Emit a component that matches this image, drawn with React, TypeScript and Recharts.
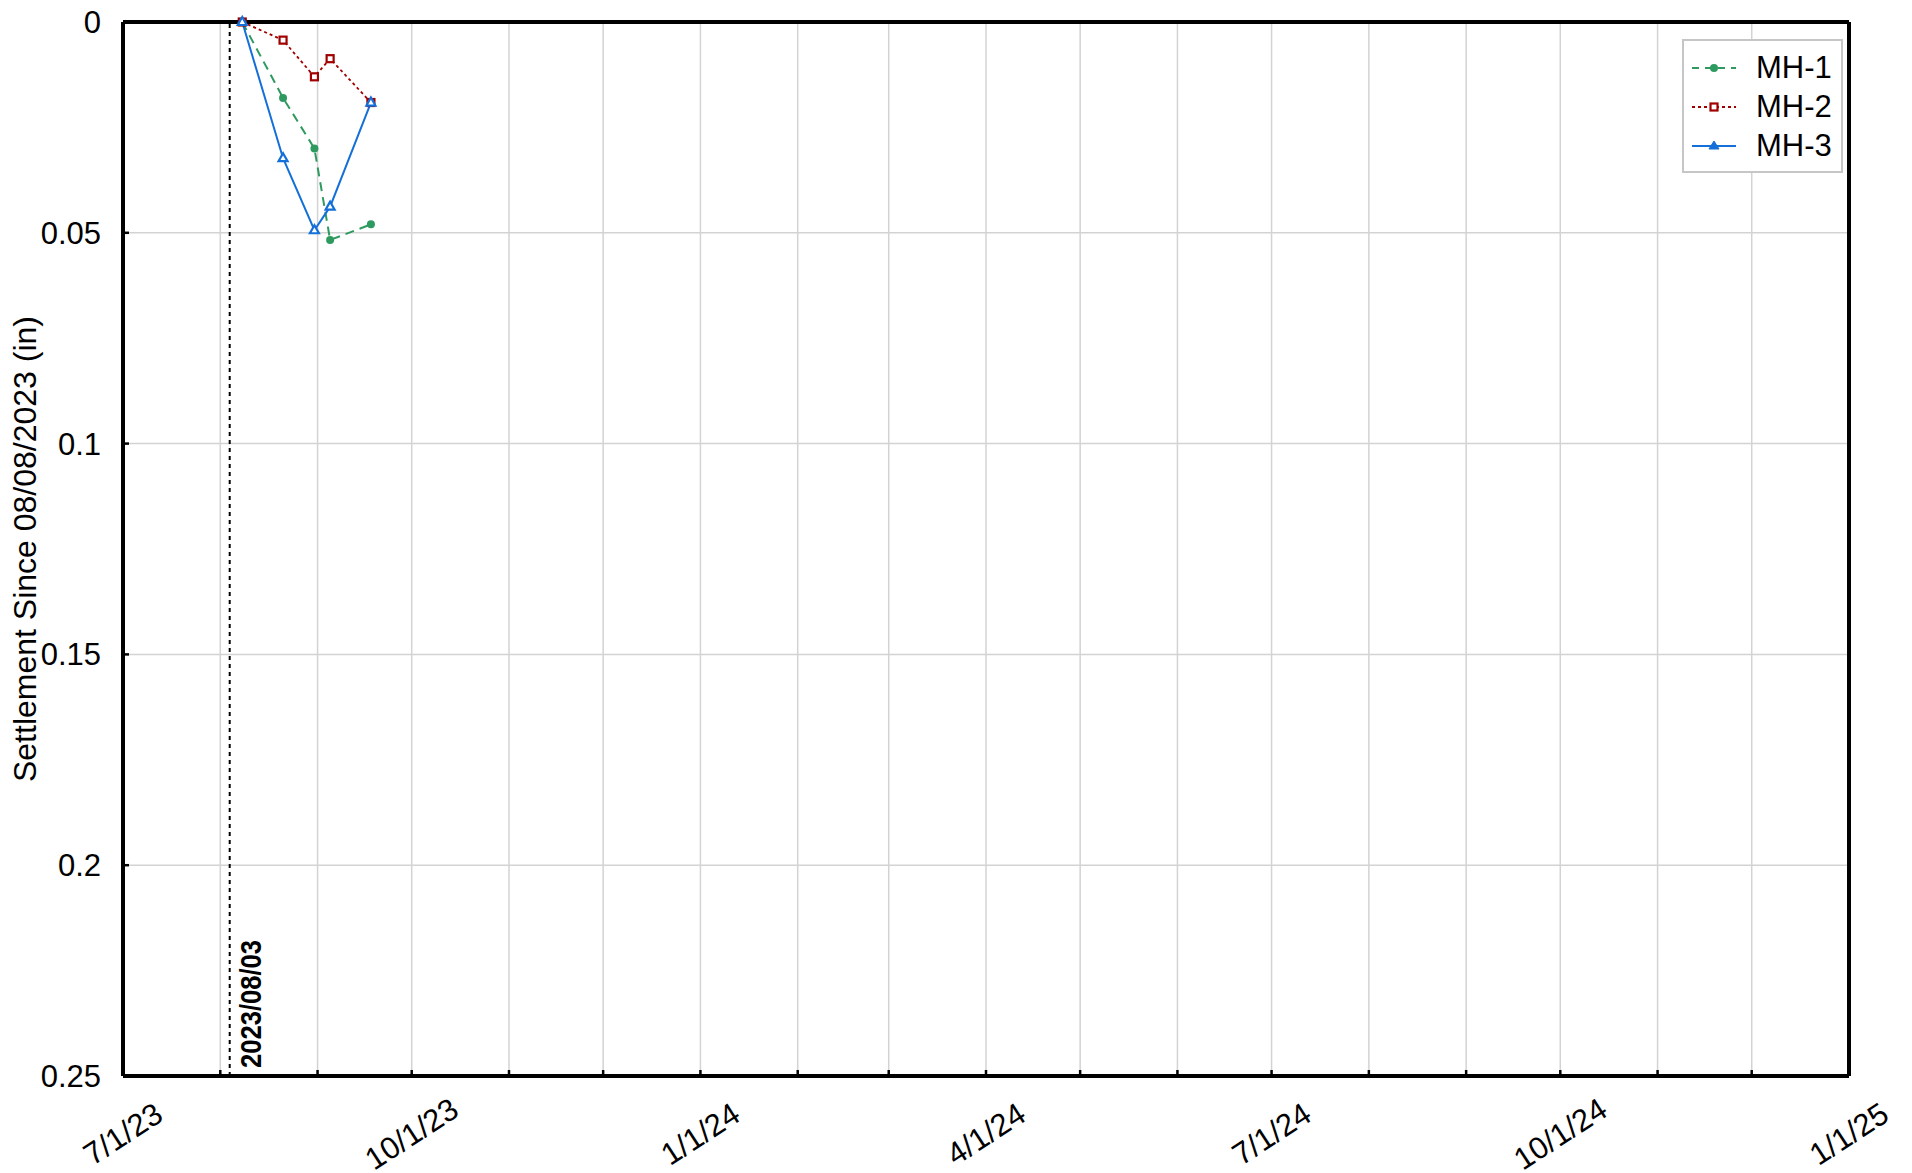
import { LineChart, Line, XAxis, YAxis, CartesianGrid, ReferenceLine, Legend } from "recharts";

const FONT = "'Liberation Sans', Arial, sans-serif";

// survey dates and settlement readings (in)
const sampleDates = ["2023-08-08", "2023-08-21", "2023-08-31", "2023-09-05", "2023-09-18"];
const mh1 = [0, 0.018, 0.03, 0.0517, 0.048];
const mh2 = [0, 0.0043, 0.013, 0.0087, 0.0191];
const mh3 = [0, 0.0323, 0.0494, 0.0438, 0.0191];

const monthTicks = [
  "2023-07-01", "2023-08-01", "2023-09-01", "2023-10-01", "2023-11-01", "2023-12-01",
  "2024-01-01", "2024-02-01", "2024-03-01", "2024-04-01", "2024-05-01", "2024-06-01",
  "2024-07-01", "2024-08-01", "2024-09-01", "2024-10-01", "2024-11-01", "2024-12-01",
  "2025-01-01",
];
const quarterLabels: Record<string, string> = {
  "2023-07-01": "7/1/23",
  "2023-10-01": "10/1/23",
  "2024-01-01": "1/1/24",
  "2024-04-01": "4/1/24",
  "2024-07-01": "7/1/24",
  "2024-10-01": "10/1/24",
  "2025-01-01": "1/1/25",
};
const yTicks = [0, 0.05, 0.1, 0.15, 0.2, 0.25];
const baselineLabel = "2023/08/03";
const baselineAt = "2023-08-04";

const ts = (s: string) => Date.parse(s + "T00:00:00Z");

const data = sampleDates.map((d, i) => ({ t: ts(d), mh1: mh1[i], mh2: mh2[i], mh3: mh3[i] }));
const tickValues = monthTicks.map(ts);
const labelByTs: Record<number, string> = {};
Object.keys(quarterLabels).forEach((k) => (labelByTs[ts(k)] = quarterLabels[k]));
const xDomain = [ts(monthTicks[0]), ts(monthTicks[monthTicks.length - 1])];

const GREEN = "#2f9a5f";
const RED = "#a00000";
const BLUE = "#1470d8";
const FS = 31;

const XTick = (props: any) => {
  const { x, y, payload } = props;
  const label = labelByTs[payload.value];
  if (!label) return <g />;
  const cy = y + 62;
  return (
    <text
      x={x}
      y={cy}
      transform={`rotate(-33 ${x} ${cy})`}
      textAnchor="middle"
      dominantBaseline="central"
      fontSize={FS}
      fontFamily={FONT}
      fill="#000"
    >
      {label}
    </text>
  );
};

const YLabel = (props: any) => {
  const vb = props.viewBox;
  const x = vb.x + 36;
  const y = vb.y + vb.height / 2;
  return (
    <text x={x} y={y} transform={`rotate(-90 ${x} ${y})`} textAnchor="middle" fontSize={32} fontFamily={FONT} fill="#000">
      Settlement Since 08/08/2023 (in)
    </text>
  );
};

const BaselineLabel = (props: any) => {
  const vb = props.viewBox;
  const x = vb.x + 31;
  const y = vb.y + vb.height - 8;
  return (
    <text
      x={x}
      y={y}
      transform={`rotate(-90 ${x} ${y})`}
      fontSize={29}
      fontWeight="bold"
      fontFamily={FONT}
      textLength={128}
      lengthAdjust="spacingAndGlyphs"
      fill="#000"
    >
      {baselineLabel}
    </text>
  );
};

const CircleDot = (props: any) => {
  const { cx, cy, index } = props;
  return <circle key={`c${index}`} cx={cx} cy={cy} r={4} fill={GREEN} stroke="none" />;
};

const SquareDot = (props: any) => {
  const { cx, cy, index } = props;
  return <rect key={`s${index}`} x={cx - 3.5} y={cy - 3.5} width={7} height={7} fill="#fff" stroke={RED} strokeWidth={2.2} />;
};

const TriDot = (props: any) => {
  const { cx, cy, index } = props;
  const pts = `${cx},${cy - 5} ${cx - 4.5},${cy + 3} ${cx + 4.5},${cy + 3}`;
  return <polygon key={`t${index}`} points={pts} fill="#fff" stroke={BLUE} strokeWidth={2.2} />;
};

const legendItems = [
  { name: "MH-1", color: GREEN, dash: "7 6", width: 2, kind: "circle" },
  { name: "MH-2", color: RED, dash: "3 3", width: 2, kind: "square" },
  { name: "MH-3", color: BLUE, dash: undefined, width: 2, kind: "tri" },
];

const LegendBox = () => (
  <div
    style={{
      width: 161,
      height: 134,
      border: "2px solid #c6c6c6",
      boxSizing: "border-box",
      background: "#fff",
      paddingTop: 7,
      fontFamily: FONT,
    }}
  >
    {legendItems.map((s) => (
      <div key={s.name} style={{ display: "flex", alignItems: "center", height: 39 }}>
        <svg width={53} height={20} style={{ display: "block" }}>
          <line x1={8} y1={10} x2={52} y2={10} stroke={s.color} strokeWidth={s.width} strokeDasharray={s.dash} />
          {s.kind === "circle" && <circle cx={30} cy={10} r={4} fill={s.color} />}
          {s.kind === "square" && <rect x={26.5} y={6.5} width={7} height={7} fill="#fff" stroke={s.color} strokeWidth={2.2} />}
          {s.kind === "tri" && <polygon points="30,5 25,13 35,13" fill={s.color} stroke={s.color} strokeWidth={1} />}
        </svg>
        <span style={{ fontSize: FS, marginLeft: 19, color: "#000", lineHeight: "39px" }}>{s.name}</span>
      </div>
    ))}
  </div>
);

const AXIS = { stroke: "#000", strokeWidth: 4 };
const TICKLINE = { stroke: "#000", strokeWidth: 2.5 };

export default function App() {
  return (
    <div style={{ position: "absolute", left: 0, top: 0, background: "#fff" }}>
      <LineChart
        width={1912}
        height={1173}
        data={data}
        margin={{ top: 21, right: 62, left: 0, bottom: 0 }}
        style={{ fontFamily: FONT }}
      >
        <CartesianGrid stroke="#d3d3d3" strokeWidth={1.5} />
        <XAxis
          dataKey="t"
          type="number"
          domain={xDomain}
          ticks={tickValues}
          interval={0}
          allowDataOverflow
          height={97}
          tickSize={-6}
          tickLine={TICKLINE}
          axisLine={AXIS}
          tick={XTick}
        />
        <XAxis
          xAxisId="top"
          orientation="top"
          dataKey="t"
          type="number"
          domain={xDomain}
          ticks={tickValues}
          interval={0}
          allowDataOverflow
          height={1}
          tickSize={-6}
          tick={false}
          tickLine={TICKLINE}
          axisLine={AXIS}
        />
        <YAxis
          type="number"
          reversed
          domain={[0, 0.25]}
          ticks={yTicks}
          interval={0}
          width={123}
          tickSize={-6}
          tickMargin={28}
          tickLine={TICKLINE}
          axisLine={AXIS}
          tick={{ fontSize: FS, fill: "#000", fontFamily: FONT }}
          tickFormatter={(v: number) => String(v)}
          label={YLabel}
        />
        <YAxis
          yAxisId="right"
          orientation="right"
          type="number"
          reversed
          domain={[0, 0.25]}
          ticks={yTicks}
          interval={0}
          width={1}
          tickSize={-6}
          tick={false}
          tickLine={TICKLINE}
          axisLine={AXIS}
        />
        <ReferenceLine y={0} stroke="#000" strokeWidth={4} />
        <ReferenceLine x={xDomain[1]} stroke="#000" strokeWidth={4} />
        <ReferenceLine
          x={ts(baselineAt)}
          stroke="#000"
          strokeWidth={2}
          strokeDasharray="4 4"
          label={BaselineLabel}
        />
        <Line
          xAxisId="top"
          yAxisId="right"
          dataKey="mh1"
          stroke="none"
          dot={false}
          activeDot={false}
          legendType="none"
          isAnimationActive={false}
        />
        <Line
          type="linear"
          dataKey="mh1"
          name="MH-1"
          stroke={GREEN}
          strokeWidth={2}
          strokeDasharray="9 6"
          dot={CircleDot}
          activeDot={false}
          isAnimationActive={false}
        />
        <Line
          type="linear"
          dataKey="mh2"
          name="MH-2"
          stroke={RED}
          strokeWidth={1.8}
          strokeDasharray="3 3"
          dot={SquareDot}
          activeDot={false}
          isAnimationActive={false}
        />
        <Line
          type="linear"
          dataKey="mh3"
          name="MH-3"
          stroke={BLUE}
          strokeWidth={2}
          dot={TriDot}
          activeDot={false}
          isAnimationActive={false}
        />
        <Legend
          layout="vertical"
          align="center"
          verticalAlign="middle"
          content={LegendBox}
          wrapperStyle={{ left: 1682, top: 39, width: 161, height: 134 }}
        />
      </LineChart>
    </div>
  );
}
